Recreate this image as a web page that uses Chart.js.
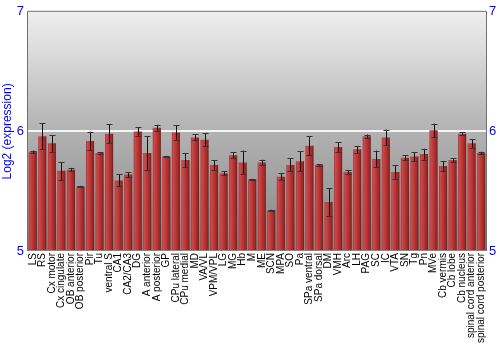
<!DOCTYPE html>
<html>
<head>
<meta charset="utf-8">
<script src="https://cdn.jsdelivr.net/npm/chart.js@4/dist/chart.umd.min.js"></script>
<style>
html,body{margin:0;padding:0;background:#fff;}
#wrap{width:500px;height:350px;}
</style>
</head>
<body>
<div id="wrap"><canvas id="c" width="500" height="350"></canvas></div>
<script>
const categories = ["LS","RS","Cx motor","Cx cingulate","OB anterior","OB posterior","Pir","Tu","ventral S","CA1","CA2/CA3","DG","A anterior","A posterior","GP","CPu lateral","CPu medial","MD","VA/VL","VPM/VPL","LG","MG","Hb","M","ME","SCN","MPA","SO","Pa","SPa ventral","SPa dorsal","DM","VMH","Arc","LH","PAG","SC","IC","VTA","SN","Tg","Pn","MVe","Cb vermis","Cb lobe","Cb nucleus","spinal cord anterior","spinal cord posterior"];
const values = [5.83,5.96,5.90,5.67,5.68,5.54,5.92,5.82,5.98,5.59,5.64,6.00,5.82,6.03,5.79,5.99,5.76,5.95,5.93,5.72,5.65,5.80,5.74,5.60,5.74,5.34,5.62,5.72,5.75,5.88,5.72,5.41,5.87,5.66,5.85,5.96,5.77,5.95,5.66,5.78,5.79,5.81,6.01,5.71,5.76,5.98,5.90,5.82];
const errors = [0.01,0.11,0.07,0.075,0.015,0.005,0.077,0.005,0.08,0.05,0.02,0.037,0.14,0.025,0.005,0.06,0.06,0.025,0.054,0.04,0.017,0.025,0.1,0.004,0.023,0.005,0.03,0.055,0.083,0.078,0.006,0.115,0.04,0.018,0.03,0.014,0.07,0.065,0.055,0.02,0.037,0.045,0.055,0.043,0.014,0.014,0.036,0.01];
const yTicks = [5,6,7];

const bgPlugin = {
  id: 'bg',
  beforeDraw(chart) {
    const {ctx, chartArea: a} = chart;
    if (!a) return;
    const g = ctx.createLinearGradient(0, a.top, 0, a.bottom);
    g.addColorStop(0, '#efefef');
    g.addColorStop(0.5, '#b2b2b2');
    g.addColorStop(1, '#868686');
    ctx.save();
    ctx.fillStyle = g;
    ctx.fillRect(a.left, a.top, a.right - a.left, a.bottom - a.top);
    ctx.restore();
  },
  afterDraw(chart) {
    const {ctx, chartArea: a} = chart;
    ctx.save();
    ctx.strokeStyle = '#707070';
    ctx.lineWidth = 1;
    ctx.beginPath();
    ctx.moveTo(a.left - 0.5, a.bottom);
    ctx.lineTo(a.left - 0.5, a.top - 0.5);
    ctx.lineTo(a.right + 0.5, a.top - 0.5);
    ctx.lineTo(a.right + 0.5, a.bottom);
    ctx.stroke();
    ctx.restore();
  }
};

const errPlugin = {
  id: 'err',
  afterDatasetsDraw(chart) {
    const ctx = chart.ctx;
    const xs = chart.scales.x, ys = chart.scales.y;
    ctx.save();
    ctx.lineWidth = 1;
    values.forEach((v, i) => {
      const x = Math.round(xs.getPixelForValue(i)) + 0.5;
      const y1 = ys.getPixelForValue(v + errors[i]);
      const y2 = ys.getPixelForValue(v - errors[i]);
      ctx.strokeStyle = '#111';
      ctx.beginPath();
      ctx.moveTo(x, y1); ctx.lineTo(x, y2);
      ctx.stroke();
      ctx.strokeStyle = '#333';
      ctx.beginPath();
      ctx.moveTo(x - 3, Math.round(y1) + 0.5); ctx.lineTo(x + 3, Math.round(y1) + 0.5);
      ctx.moveTo(x - 3, Math.round(y2) + 0.5); ctx.lineTo(x + 3, Math.round(y2) + 0.5);
      ctx.stroke();
    });
    ctx.restore();
  }
};

function barColor(context) {
  const chart = context.chart;
  const xs = chart.scales && chart.scales.x;
  if (!xs || !chart.chartArea || context.dataIndex === undefined) return '#b03030';
  const cx = xs.getPixelForValue(context.dataIndex);
  const w = (xs.width / categories.length) * 0.85;
  const g = chart.ctx.createLinearGradient(cx - w / 2, 0, cx + w / 2, 0);
  g.addColorStop(0, '#a83030');
  g.addColorStop(0.15, '#cc4a4a');
  g.addColorStop(0.5, '#b83636');
  g.addColorStop(0.85, '#9a2626');
  g.addColorStop(1, '#6e1616');
  return g;
}

new Chart(document.getElementById('c'), {
  type: 'bar',
  data: {
    labels: categories,
    datasets: [{
      data: values,
      backgroundColor: barColor,
      borderWidth: 0,
      barPercentage: 0.85,
      categoryPercentage: 1.0,
      base: 5
    }]
  },
  options: {
    responsive: false,
    animation: false,
    devicePixelRatio: 1,
    layout: { padding: { top: 10, left: 0, right: 0, bottom: 0 } },
    plugins: { legend: { display: false }, tooltip: { enabled: false } },
    scales: {
      x: {
        grid: { display: false, drawTicks: false },
        border: { display: false },
        ticks: {
          autoSkip: false, maxRotation: 90, minRotation: 90,
          color: '#000', padding: 2,
          font: { family: 'Liberation Sans, Arial', size: 10 }
        },
        afterFit(s) { s.height = 99; }
      },
      y: {
        position: 'left',
        min: 5, max: 7,
        afterBuildTicks(s) { s.ticks = yTicks.map(v => ({ value: v })); },
        grid: {
          color: c => c.tick && c.tick.value === 6 ? '#f4f4f4' : 'rgba(0,0,0,0)',
          lineWidth: 2, drawTicks: false
        },
        border: { display: false },
        ticks: { color: '#0000ff', padding: 4, font: { family: 'Liberation Sans, Arial', size: 13 } },
        title: { display: true, text: 'Log2 (expression)', color: '#0000ff', padding: 0,
                 font: { family: 'Liberation Sans, Arial', size: 12 } },
        afterFit(s) { s.width = 28; }
      },
      y2: {
        position: 'right',
        min: 5, max: 7,
        afterBuildTicks(s) { s.ticks = yTicks.map(v => ({ value: v })); },
        grid: { display: false, drawTicks: false },
        border: { display: false },
        ticks: { color: '#0000ff', padding: 3, font: { family: 'Liberation Sans, Arial', size: 13 } },
        afterFit(s) { s.width = 14; }
      }
    }
  },
  plugins: [bgPlugin, errPlugin]
});
</script>
</body>
</html>
